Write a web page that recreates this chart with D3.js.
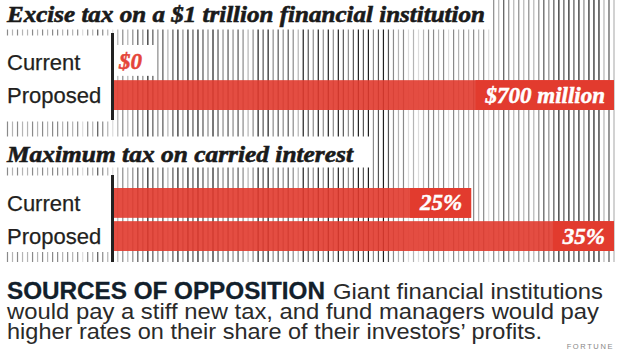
<!DOCTYPE html>
<html><head><meta charset="utf-8">
<script src="https://cdn.jsdelivr.net/npm/d3@7"></script>
<style>
html,body{margin:0;padding:0;background:#fff;}
svg{display:block;}
</style></head>
<body>
<svg id="chart" width="620" height="356"></svg>
<script>
// ---- data ----
const categories = ["Current", "Proposed"];
const exciseTitle = "Excise tax on a $1 trillion financial institution";
const exciseValues = [0, 700];            // $ millions
const exciseLabels = ["$0", "$700 million"];
const carriedTitle = "Maximum tax on carried interest";
const carriedValues = [25, 35];           // percent
const carriedLabels = ["25%", "35%"];
const headline = "SOURCES OF OPPOSITION";
const bodyLines = ["Giant financial institutions",
  "would pay a stiff new tax, and fund managers would pay",
  "higher rates on their share of their investors\u2019 profits."];
const credit = "FORTUNE";
// decorative background barcode stripes: shade index per stripe (0 dark .. 4 light)
const stripeShades = ("2323323232" + "2323242312" + "3432321201" + "2131020101" +
  "2012121232" + "0102121230" + "1202020121" + "0102101232" +
  "4343223242" + "3232324231" + "2323232121" + "0101020003" + "13").split("").map(Number);
const shadeColors = ["#1e1e1e", "#555", "#8a8a8a", "#b4b4b4", "#dcdcdc"];

const svg = d3.select("#chart");
const RED = "#e5453a";
const BAR = "#e13a2e";
const serif = "'Liberation Serif', 'DejaVu Serif', serif";
const sans = "'Liberation Sans', Arial, sans-serif";

// stripes
const sx = d3.scaleLinear().domain([0, stripeShades.length - 1]).range([7.5, 614]);
svg.append("g").selectAll("line").data(stripeShades).join("line")
  .attr("x1", (d, i) => sx(i)).attr("x2", (d, i) => sx(i))
  .attr("y1", 0).attr("y2", 262)
  .attr("stroke", d => shadeColors[d]).attr("stroke-width", 1.2);

// white masks
const masks = [[0, 0, 492, 29.5], [0, 35.5, 110.5, 86], [0, 136.5, 369, 31], [0, 175.5, 110.5, 76.5]];
svg.append("g").selectAll("rect").data(masks).join("rect")
  .attr("x", d => d[0]).attr("y", d => d[1]).attr("width", d => d[2]).attr("height", d => d[3])
  .attr("fill", "#fff");

function fitText(sel, w) {
  sel.attr("textLength", w).attr("lengthAdjust", "spacingAndGlyphs");
}

function panel(title, titleY, titleW, values, labels, maxV, bandRange, axisRange) {
  const x = d3.scaleLinear().domain([0, maxV]).range([114, 614]);
  const y = d3.scaleBand().domain(categories).range(bandRange).paddingInner(0.1);
  const g = svg.append("g");
  fitText(g.append("text").attr("x", 7).attr("y", titleY).text(title)
    .attr("font-family", serif).attr("font-weight", "bold").attr("font-style", "italic")
    .attr("font-size", 24).attr("fill", "#1a1a1a")
    .attr("stroke", "#1a1a1a").attr("stroke-width", 0.6), titleW);
  // bars
  g.selectAll("rect.bar").data(values).join("rect").attr("class", "bar")
    .attr("x", x(0)).attr("y", (d, i) => y(categories[i]))
    .attr("width", d => x(d) - x(0)).attr("height", y.bandwidth())
    .attr("fill", BAR).attr("opacity", 0.9);
  // category labels
  g.selectAll("text.cat").data(categories).join("text").attr("class", "cat")
    .attr("x", 7).attr("y", d => y(d) + y.bandwidth() / 2 + 8)
    .attr("font-family", sans).attr("font-size", 22).attr("fill", "#231f20")
    .attr("stroke", "#231f20").attr("stroke-width", 0.25)
    .text(d => d);
  // value labels
  values.forEach((v, i) => {
    const cy = y(categories[i]) + y.bandwidth() / 2 + 7.5;
    if (v === 0) {
      g.append("rect").attr("x", x(0)).attr("y", y(categories[i]) - 2)
        .attr("width", 40).attr("height", y.bandwidth() + 1).attr("fill", "#fff");
      g.append("text").attr("x", x(0) + 5).attr("y", cy)
        .attr("font-family", serif).attr("font-weight", "bold").attr("font-style", "italic")
        .attr("font-size", 23).attr("fill", RED)
        .attr("stroke", RED).attr("stroke-width", 0.5).text(labels[i]);
    } else {
      const t = g.append("text").attr("x", x(v) - 9).attr("y", cy)
        .attr("text-anchor", "end")
        .attr("font-family", serif).attr("font-weight", "bold").attr("font-style", "italic")
        .attr("font-size", 23).attr("fill", "#fff")
        .attr("stroke", "#fff").attr("stroke-width", 0.5).text(labels[i]);
      const w = t.node().getComputedTextLength();
      g.insert("rect", "text").attr("x", x(v) - 9 - w - 10).attr("y", y(categories[i]))
        .attr("width", w + 19).attr("height", y.bandwidth()).attr("fill", RED);
    }
  });
  // axis line
  g.append("line").attr("x1", 112.5).attr("x2", 112.5)
    .attr("y1", axisRange[0]).attr("y2", axisRange[1])
    .attr("stroke", "#222").attr("stroke-width", 3);
}

panel(exciseTitle, 22, 478, exciseValues, exciseLabels, d3.max(exciseValues), [47, 110], [33, 120]);
panel(carriedTitle, 162, 346, carriedValues, carriedLabels, d3.max(carriedValues), [188, 251], [175, 262]);

// bottom text
fitText(svg.append("text").attr("x", 7).attr("y", 299).text(headline)
  .attr("font-family", sans).attr("font-weight", "bold").attr("font-size", 23)
  .attr("fill", "#12202b").attr("stroke", "#12202b").attr("stroke-width", 0.3), 318);
const bodyW = [270, 592, 535];
const bodyX = [333, 7, 7];
const bodyY = [299, 319, 338.5];
bodyLines.forEach((l, i) => {
  fitText(svg.append("text").attr("x", bodyX[i]).attr("y", bodyY[i]).text(l)
    .attr("font-family", sans).attr("font-size", 22.5).attr("fill", "#2a2a2a"), bodyW[i]);
});
svg.append("text").attr("x", 614).attr("y", 349).attr("text-anchor", "end")
  .attr("font-family", sans).attr("font-size", 7.5).attr("letter-spacing", 1.6)
  .attr("fill", "#888").text(credit);
</script>
</body></html>
